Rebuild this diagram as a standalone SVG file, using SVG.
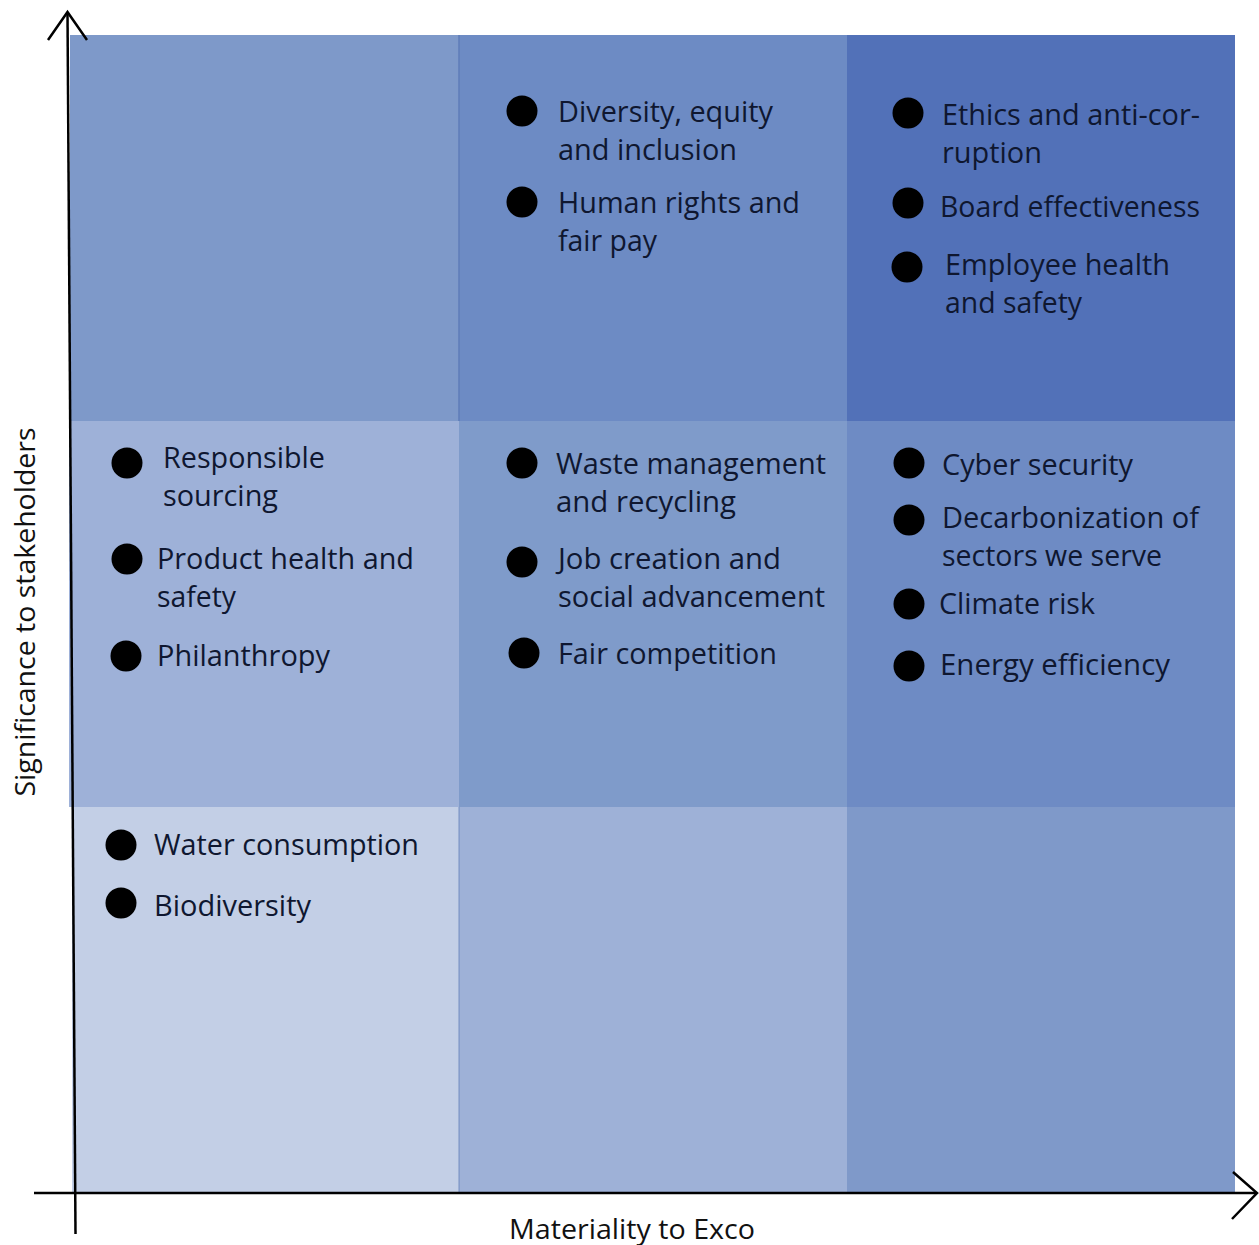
<svg xmlns="http://www.w3.org/2000/svg" width="1259" height="1245" viewBox="0 0 1259 1245">
<style>
.t{font-family:"Open Sans","Noto Sans","Liberation Sans",sans-serif;font-size:29px;fill:#0f1730;}
.ax{font-family:"Open Sans","Noto Sans","Liberation Sans",sans-serif;font-size:28px;fill:#111;}
.b{fill:#000;}
.axis{stroke:#000;stroke-width:2.5;fill:none;stroke-linecap:butt;}
.sep{stroke:#5f7db9;stroke-width:1.5;}
</style>
<rect width="1259" height="1245" fill="#fff"/>
<g id="cells">
<rect x="70" y="35" width="389" height="386" fill="#7e99c9"/>
<rect x="459" y="35" width="388" height="386" fill="#6d8bc4"/>
<rect x="847" y="35" width="388" height="386" fill="#5271b8"/>
<rect x="69" y="421" width="390" height="386" fill="#9eb1d8"/>
<rect x="459" y="421" width="388" height="386" fill="#7f9bca"/>
<rect x="847" y="421" width="388" height="386" fill="#6e8bc4"/>
<rect x="72" y="807" width="387" height="386" fill="#c3cfe6"/>
<rect x="459" y="807" width="388" height="386" fill="#9eb1d7"/>
<rect x="847" y="807" width="388" height="386" fill="#7f99c9"/>
<line class="sep" x1="459" y1="35" x2="459" y2="421"/>
<line class="sep" x1="459" y1="807" x2="459" y2="1193" stroke-opacity="0.5"/>
</g>
<g id="top-middle">
<circle class="b" cx="522" cy="111" r="15.5"/>
<text class="t" x="558" y="122" textLength="215" lengthAdjust="spacingAndGlyphs">Diversity, equity</text>
<text class="t" x="558" y="160" textLength="179" lengthAdjust="spacingAndGlyphs">and inclusion</text>
<circle class="b" cx="522" cy="202" r="15.5"/>
<text class="t" x="558" y="213" textLength="242" lengthAdjust="spacingAndGlyphs">Human rights and</text>
<text class="t" x="558" y="251" textLength="99" lengthAdjust="spacingAndGlyphs">fair pay</text>
</g>
<g id="top-right">
<circle class="b" cx="908" cy="113" r="15.5"/>
<text class="t" x="942" y="125" textLength="258" lengthAdjust="spacingAndGlyphs">Ethics and anti-cor-</text>
<text class="t" x="942" y="163" textLength="100" lengthAdjust="spacingAndGlyphs">ruption</text>
<circle class="b" cx="908" cy="203" r="15.5"/>
<text class="t" x="940" y="217" textLength="260" lengthAdjust="spacingAndGlyphs">Board effectiveness</text>
<circle class="b" cx="907" cy="267" r="15.5"/>
<text class="t" x="945" y="275" textLength="225" lengthAdjust="spacingAndGlyphs">Employee health</text>
<text class="t" x="945" y="313" textLength="137" lengthAdjust="spacingAndGlyphs">and safety</text>
</g>
<g id="middle-left">
<circle class="b" cx="127" cy="463" r="15.5"/>
<text class="t" x="163" y="468" textLength="162" lengthAdjust="spacingAndGlyphs">Responsible</text>
<text class="t" x="163" y="506" textLength="115" lengthAdjust="spacingAndGlyphs">sourcing</text>
<circle class="b" cx="127" cy="559" r="15.5"/>
<text class="t" x="157" y="569" textLength="257" lengthAdjust="spacingAndGlyphs">Product health and</text>
<text class="t" x="157" y="607" textLength="79" lengthAdjust="spacingAndGlyphs">safety</text>
<circle class="b" cx="126" cy="656" r="15.5"/>
<text class="t" x="157" y="666" textLength="173" lengthAdjust="spacingAndGlyphs">Philanthropy</text>
</g>
<g id="middle-middle">
<circle class="b" cx="522" cy="463" r="15.5"/>
<text class="t" x="556" y="474" textLength="270" lengthAdjust="spacingAndGlyphs">Waste management</text>
<text class="t" x="556" y="512" textLength="180" lengthAdjust="spacingAndGlyphs">and recycling</text>
<circle class="b" cx="522" cy="562" r="15.5"/>
<text class="t" x="558" y="569" textLength="223" lengthAdjust="spacingAndGlyphs">Job creation and</text>
<text class="t" x="558" y="607" textLength="267" lengthAdjust="spacingAndGlyphs">social advancement</text>
<circle class="b" cx="524" cy="653" r="15.5"/>
<text class="t" x="558" y="664" textLength="219" lengthAdjust="spacingAndGlyphs">Fair competition</text>
</g>
<g id="middle-right">
<circle class="b" cx="909" cy="463" r="15.5"/>
<text class="t" x="942" y="475" textLength="191" lengthAdjust="spacingAndGlyphs">Cyber security</text>
<circle class="b" cx="909" cy="520" r="15.5"/>
<text class="t" x="942" y="528" textLength="257" lengthAdjust="spacingAndGlyphs">Decarbonization of</text>
<text class="t" x="942" y="566" textLength="220" lengthAdjust="spacingAndGlyphs">sectors we serve</text>
<circle class="b" cx="909" cy="604" r="15.5"/>
<text class="t" x="939" y="614" textLength="156" lengthAdjust="spacingAndGlyphs">Climate risk</text>
<circle class="b" cx="909" cy="666" r="15.5"/>
<text class="t" x="940" y="675" textLength="230" lengthAdjust="spacingAndGlyphs">Energy efficiency</text>
</g>
<g id="bottom-left">
<circle class="b" cx="121" cy="845" r="15.5"/>
<text class="t" x="154" y="855" textLength="265" lengthAdjust="spacingAndGlyphs">Water consumption</text>
<circle class="b" cx="121" cy="903" r="15.5"/>
<text class="t" x="154" y="916" textLength="157" lengthAdjust="spacingAndGlyphs">Biodiversity</text>
</g>
<g id="connectors">
<line class="axis" x1="67.5" y1="13" x2="75.5" y2="1234"/>
<polyline class="axis" points="48,40 67.5,12 87,40"/>
<line class="axis" x1="34" y1="1193" x2="1256" y2="1193"/>
<polyline class="axis" points="1233,1172 1257,1193 1232,1219"/>
</g>
<g id="axis-labels">
<text class="ax" x="632" y="1239" text-anchor="middle" textLength="246" lengthAdjust="spacingAndGlyphs">Materiality to Exco</text>
<text class="ax" transform="translate(35,612) rotate(-90)" text-anchor="middle" textLength="369" lengthAdjust="spacingAndGlyphs">Significance to stakeholders</text>
</g>
</svg>
